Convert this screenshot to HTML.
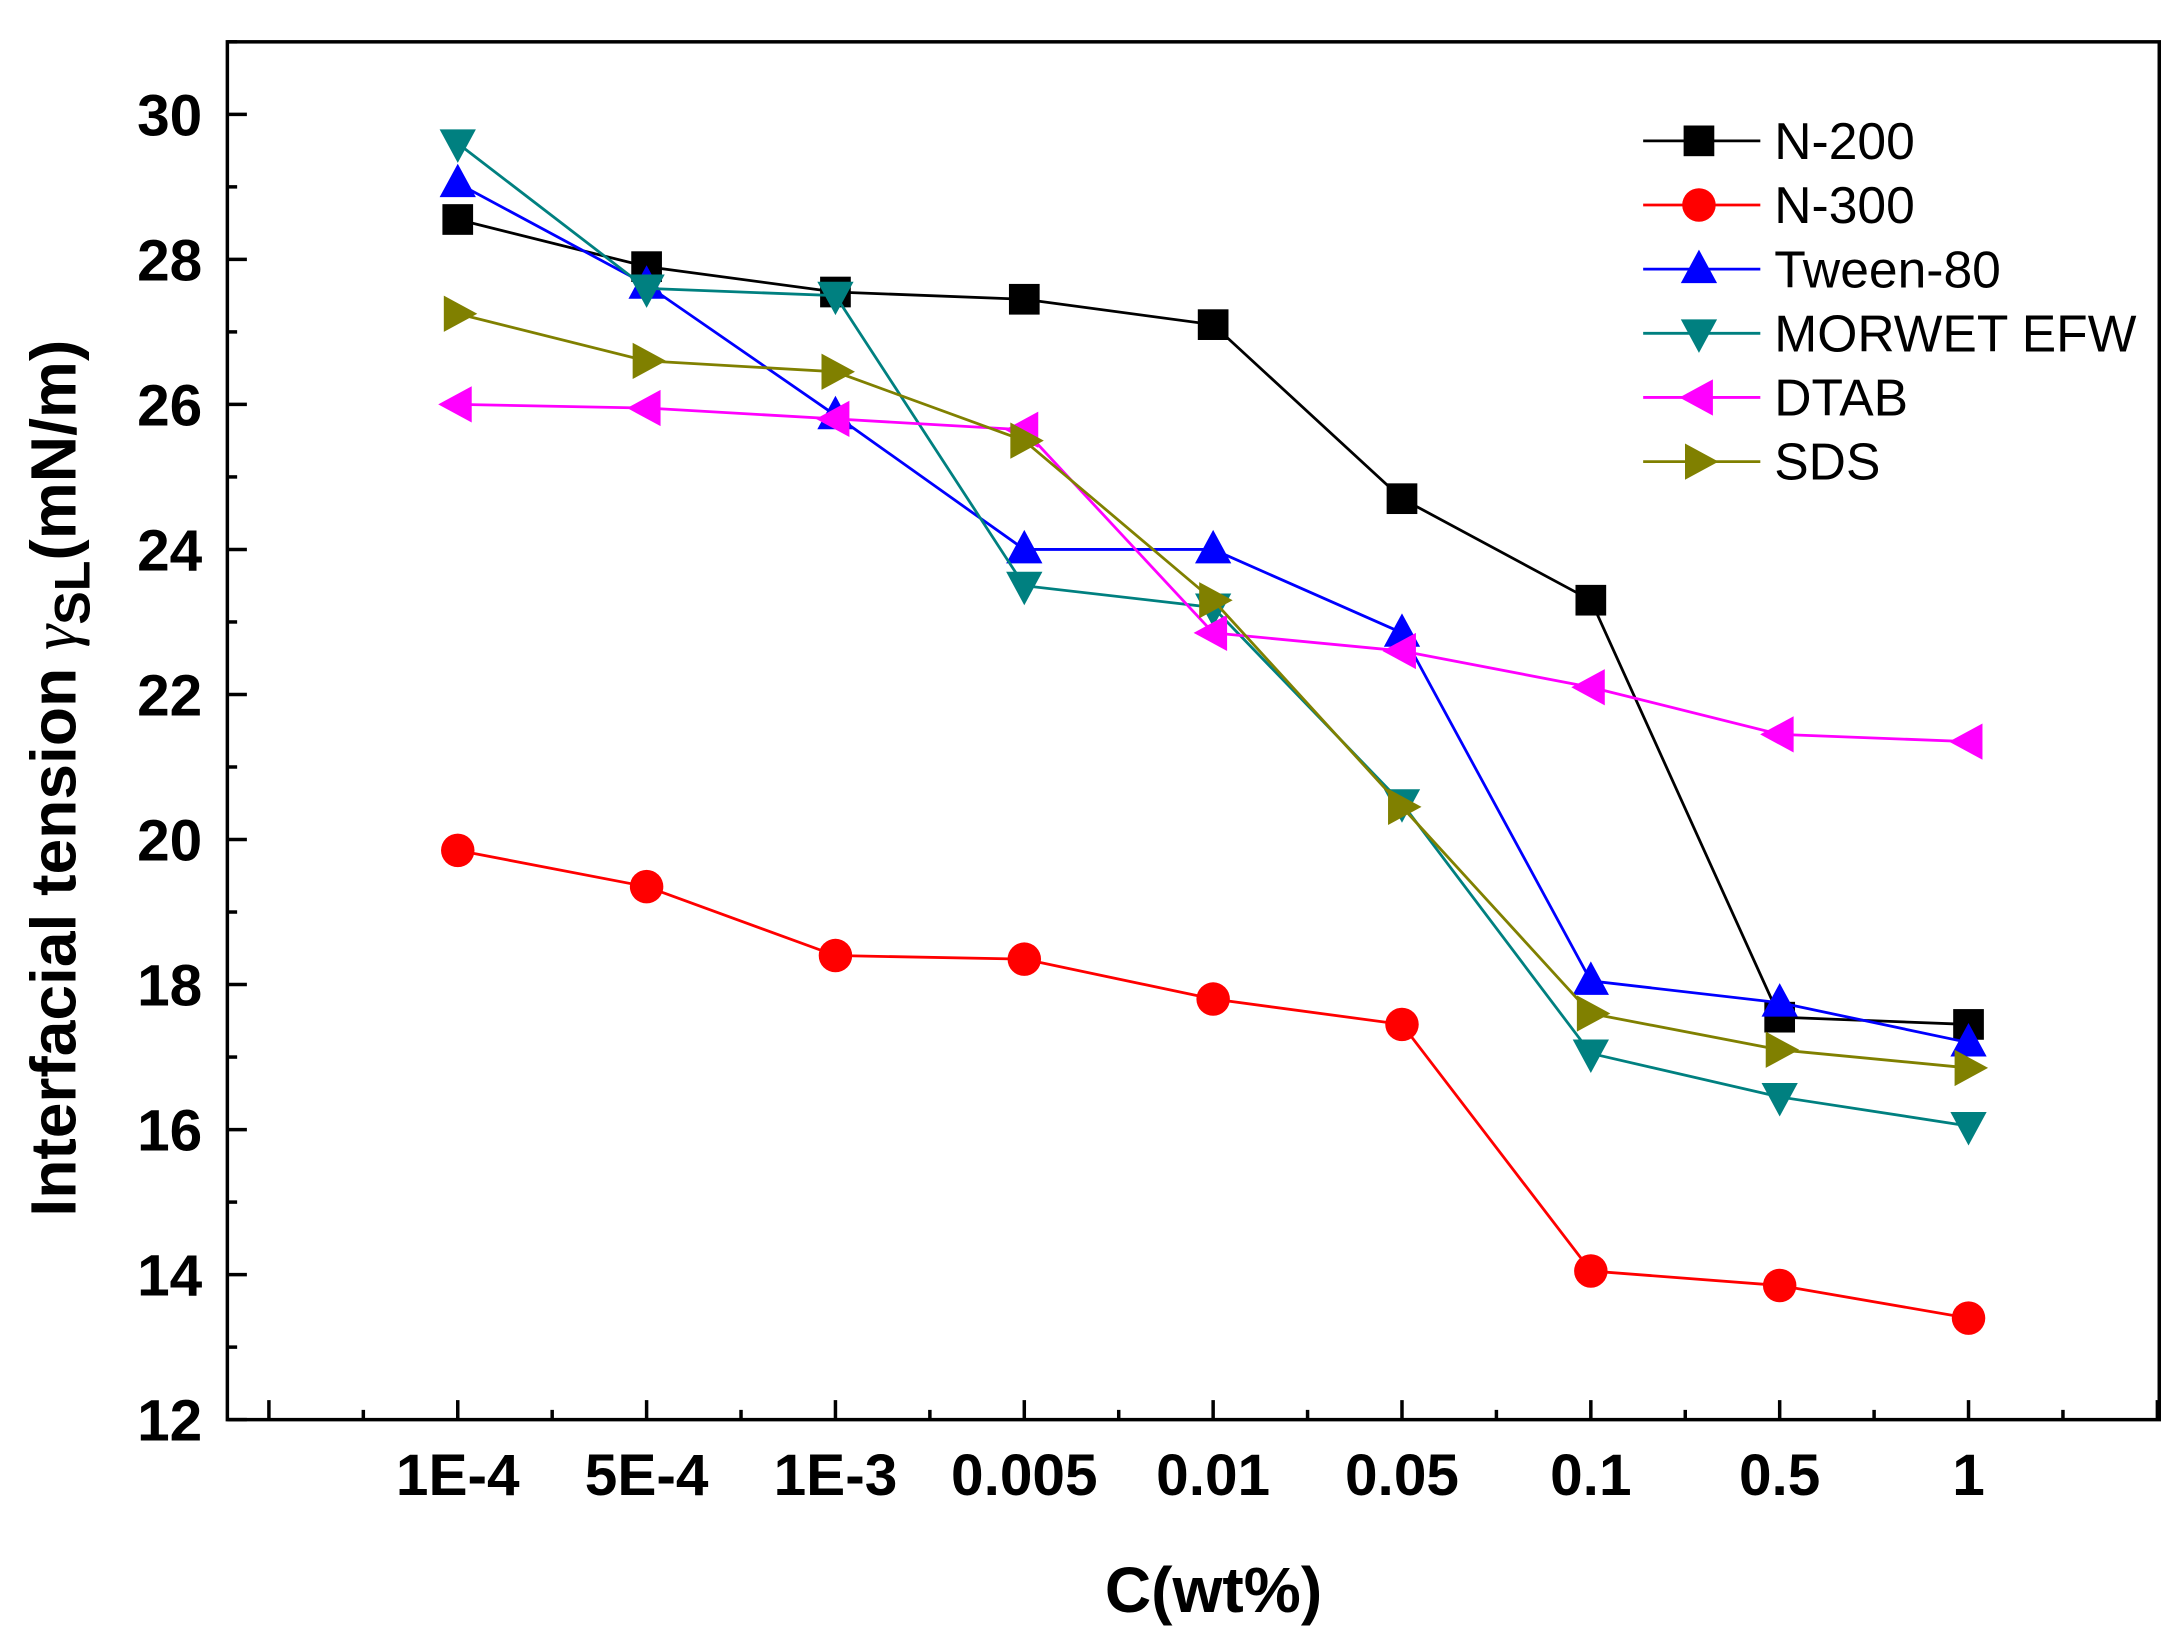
<!DOCTYPE html>
<html><head><meta charset="utf-8"><style>
html,body{margin:0;padding:0;background:#fff}
svg{display:block}
text{font-family:"Liberation Sans",Arial,sans-serif;font-weight:bold}
</style></head><body>
<svg id="chart" width="2176" height="1633" viewBox="0 0 1560 1171" preserveAspectRatio="none" xmlns="http://www.w3.org/2000/svg">
<rect x="163" y="30" width="1385" height="988" fill="none" stroke="#000" stroke-width="2.5"/>
<g id="axes"></g>
<g id="series"></g>
<g id="legend"></g>
<text x="870" y="1156" font-size="46" text-anchor="middle">C(wt%)</text>
<text transform="translate(54,558) rotate(-90)" font-size="46" text-anchor="middle">Interfacial tension <tspan font-style="italic" font-family="Liberation Serif,serif" font-weight="normal">γ</tspan><tspan font-size="36" dy="10">SL</tspan><tspan dy="-10">(mN/m)</tspan></text>
</svg>
<script>
const categories = ["1E-4","5E-4","1E-3","0.005","0.01","0.05","0.1","0.5","1"];
const yTicks = [12,14,16,18,20,22,24,26,28,30];
const seriesNames = ["N-200","N-300","Tween-80","MORWET EFW","DTAB","SDS"];
const n200 = [28.55,27.9,27.55,27.45,27.1,24.7,23.3,17.55,17.45];
const n300 = [19.85,19.35,18.4,18.35,17.8,17.45,14.05,13.85,13.4];
const tween80 = [29.05,27.65,25.85,24.0,24.0,22.85,18.05,17.75,17.2];
const morwet = [29.6,27.6,27.5,23.5,23.2,20.5,17.05,16.45,16.05];
const dtab = [26.0,25.95,25.8,25.65,22.85,22.6,22.1,21.45,21.35];
const sds = [27.25,26.6,26.45,25.5,23.3,20.45,17.6,17.1,16.85];

const NS="http://www.w3.org/2000/svg";
const L=163,R=1548,T=30,B=1018;
const xMin=-1.22,xMax=9.01,yMin=12,yMax=31;
function xs(i){return L+(i-xMin)/(xMax-xMin)*(R-L);}
function ys(v){return B-(v-yMin)/(yMax-yMin)*(B-T);}
function mk(tag,attrs,parent){const e=document.createElementNS(NS,tag);for(const k in attrs)e.setAttribute(k,attrs[k]);parent.appendChild(e);return e;}
const axes=document.getElementById('axes');
for(let v=12;v<=31;v+=1){
  const major=(v%2===0);
  const t=mk('line',{x1:L,x2:L+(major?14:7),y1:ys(v),y2:ys(v),stroke:'#000','stroke-width':2.5},axes);
  
  
}
yTicks.forEach(v=>{
  const t=mk('text',{x:L-18,y:ys(v)+15,'font-size':42,'text-anchor':'end'},axes);
  t.textContent=v;
  
  
});
for(let k=-2;k<=18;k++){
  const i=k/2; const major=(k%2===0);
  const t=mk('line',{x1:xs(i),x2:xs(i),y1:B,y2:B-(major?14:7),stroke:'#000','stroke-width':2.5},axes);
  
  
}
categories.forEach((c,i)=>{
  const t=mk('text',{x:xs(i),y:1072,'font-size':42,'text-anchor':'middle'},axes);
  t.textContent=c;
  
  
});
const allData=[n200,n300,tween80,morwet,dtab,sds];
const colors=['#000000','#ff0000','#0000ff','#008080','#ff00ff','#808000'];
const shapes=['square','circle','up','down','left','right'];
function marker(shape,x,y,color,parent){
  const s=12;let e;
  if(shape==='square')e=mk('rect',{x:x-s+1,y:y-s+1,width:2*s-2,height:2*s-2,fill:color},parent);
  else if(shape==='circle')e=mk('circle',{cx:x,cy:y,r:s,fill:color},parent);
  else{
    let p;
    if(shape==='up')p=[[x,y-s-2],[x-s-1,y+s-2],[x+s+1,y+s-2]];
    if(shape==='down')p=[[x,y+s+2],[x-s-1,y-s+2],[x+s+1,y-s+2]];
    if(shape==='left')p=[[x-s-2,y],[x+s-2,y-s-1],[x+s-2,y+s+1]];
    if(shape==='right')p=[[x+s+2,y],[x-s+2,y-s-1],[x-s+2,y+s+1]];
    e=mk('polygon',{points:p.map(q=>q.join(',')).join(' '),fill:color},parent);
  }
  return e;
}
const sg=document.getElementById('series');
allData.forEach((d,si)=>{
  const g=mk('g',{},sg);
  
  
  const ln=mk('polyline',{points:d.map((v,i)=>xs(i)+','+ys(v)).join(' '),fill:'none',stroke:colors[si],'stroke-width':2},g);
  
  
  d.forEach((v,i)=>{
    const m=marker(shapes[si],xs(i),ys(v),colors[si],g);
    
    
  });
});
const lg=document.getElementById('legend');
seriesNames.forEach((nm,si)=>{
  const y=101+si*46;
  const g=mk('g',{},lg);
  
  
  mk('line',{x1:1178,x2:1262,y1:y,y2:y,stroke:colors[si],'stroke-width':2},g);
  marker(shapes[si],1218,y,colors[si],g);
  const t=mk('text',{x:1272,y:y+13,'font-size':37},g);
  t.style.fontWeight='normal';
  t.textContent=nm;
});
</script>
</body></html>
